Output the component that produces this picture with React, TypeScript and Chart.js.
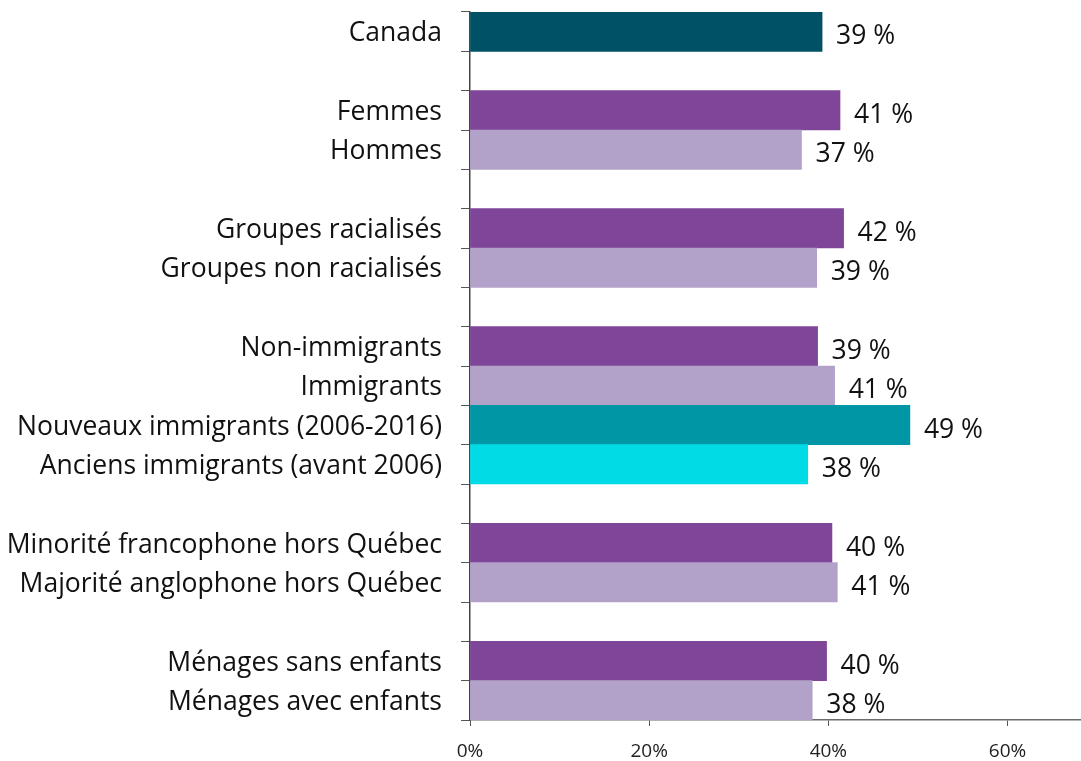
import React, { useEffect, useRef } from "react";
import { Chart, registerables } from "chart.js";

Chart.register(...registerables);

const categories = [
  "Canada", "",
  "Femmes", "Hommes", "",
  "Groupes racialisés", "Groupes non racialisés", "",
  "Non-immigrants", "Immigrants", "Nouveaux immigrants (2006-2016)", "Anciens immigrants (avant 2006)", "",
  "Minorité francophone hors Québec", "Majorité anglophone hors Québec", "",
  "Ménages sans enfants", "Ménages avec enfants",
];

const values = [
  39.3, null,
  41.3, 37.0, null,
  41.7, 38.7, null,
  38.8, 40.7, 49.1, 37.7, null,
  40.4, 41.0, null,
  39.8, 38.2,
];

const valueLabels = [
  "39 %", "",
  "41 %", "37 %", "",
  "42 %", "39 %", "",
  "39 %", "41 %", "49 %", "38 %", "",
  "40 %", "41 %", "",
  "40 %", "38 %",
];

const DARK = "#015166";
const PURPLE = "#7F4599";
const LILAC = "#B2A2C9";
const TEAL = "#0096A5";
const CYAN = "#00DBE5";

const barColors = [
  DARK, DARK,
  PURPLE, LILAC, LILAC,
  PURPLE, LILAC, LILAC,
  PURPLE, LILAC, TEAL, CYAN, CYAN,
  PURPLE, LILAC, LILAC,
  PURPLE, LILAC,
];

const xTicks = [0, 20, 40, 60];
const FONT = "'Open Sans', 'Noto Sans', sans-serif";

const valueLabelPlugin = {
  id: "valueLabels",
  afterDatasetsDraw(chart: any) {
    const ctx = chart.ctx;
    const meta = chart.getDatasetMeta(0);
    ctx.save();
    ctx.font = `26.5px ${FONT}`;
    ctx.fillStyle = "#111";
    ctx.textAlign = "left";
    ctx.textBaseline = "middle";
    meta.data.forEach((bar: any, i: number) => {
      const txt = valueLabels[i];
      if (!txt || values[i] == null) return;
      ctx.fillText(txt, bar.x + 14, bar.y + 5);
    });
    ctx.restore();
  },
};

export default function App() {
  const ref = useRef<HTMLCanvasElement>(null);
  useEffect(() => {
    if (!ref.current) return;
    const chart = new Chart(ref.current, {
      type: "bar",
      data: {
        labels: categories,
        datasets: [
          {
            data: values as any,
            backgroundColor: barColors,
            barPercentage: 1,
            categoryPercentage: 1,
            borderWidth: 0,
          },
        ],
      },
      options: {
        indexAxis: "y",
        animation: false,
        responsive: false,
        maintainAspectRatio: false,
        layout: { padding: { top: 12, right: 0, left: 0, bottom: 0 } },
        plugins: {
          legend: { display: false },
          tooltip: { enabled: false },
        },
        scales: {
          x: {
            min: 0,
            max: 68.2,
            afterBuildTicks(scale: any) {
              scale.ticks = xTicks.map((v) => ({ value: v }));
            },
            afterFit(scale: any) {
              scale.height = 41;
              scale.paddingLeft = 0;
              scale.paddingRight = 0;
            },
            border: { display: true, color: "#6b6b6b", width: 1.5 },
            grid: {
              drawOnChartArea: false,
              drawTicks: true,
              tickLength: 6,
              color: "#555",
            },
            ticks: {
              padding: 14,
              color: "#222",
              font: { family: FONT, size: 19 },
              callback: (v: any) => `${v}%`,
            },
          },
          y: {
            afterFit(scale: any) {
              scale.width = 470;
              scale.paddingTop = 0;
              scale.paddingBottom = 0;
            },
            border: { display: true, color: "#444", width: 1.5 },
            grid: {
              offset: true,
              drawOnChartArea: false,
              drawTicks: true,
              tickLength: 9,
              color: "#555",
            },
            ticks: {
              padding: 19,
              labelOffset: 2,
              color: "#111",
              autoSkip: false,
              font: { family: FONT, size: 26.5 },
            },
          },
        },
      },
      plugins: [valueLabelPlugin],
    });
    return () => chart.destroy();
  }, []);
  return (
    <div style={{ position: "fixed", left: 0, top: 0, width: 1081, height: 761, background: "#fff" }}>
      <canvas ref={ref} width={1081} height={761} style={{ width: 1081, height: 761 }} />
    </div>
  );
}
